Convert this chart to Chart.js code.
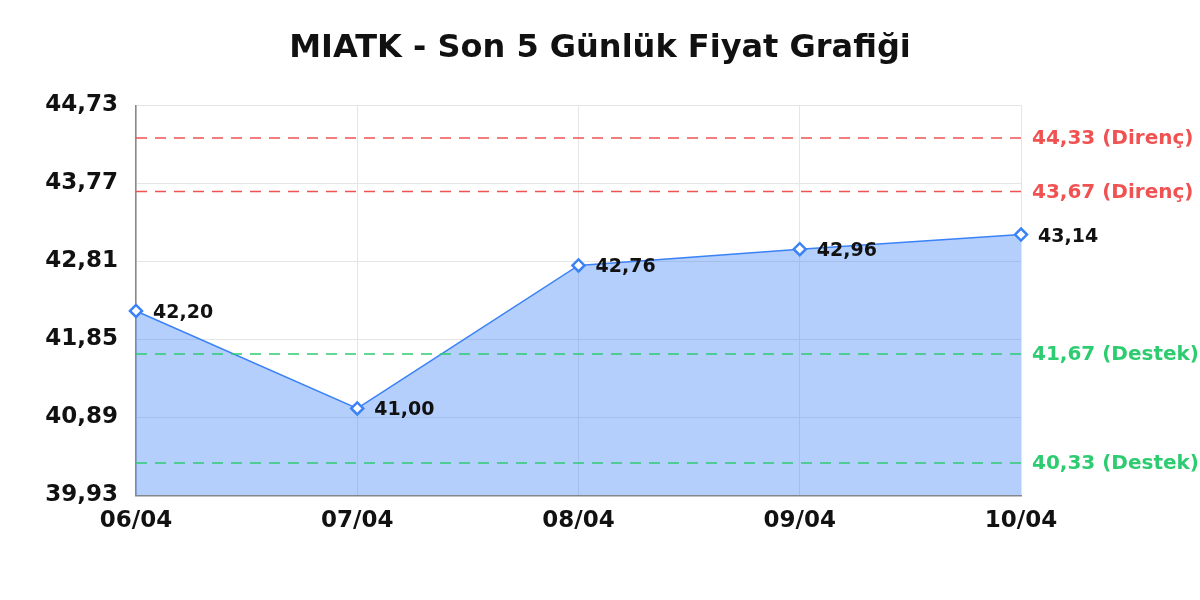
<!DOCTYPE html>
<html lang="tr">
<head>
    <meta charset="UTF-8">
    <title>MIATK - Son 5 Günlük Fiyat Grafiği</title>
    <style>
        body {
            margin: 0;
            padding: 0;
            background-color: #fff;
        }

        .chart-box {
            width: 1200px;
            height: 600px;
        }
    </style>
</head>
<body>
    <div class="chart-box">
        <canvas id="priceChart" width="1200" height="600"></canvas>
    </div>

    <script src="https://cdn.jsdelivr.net/npm/chart.js"></script>
    <script>
        // Data
        const days = ['06/04', '07/04', '08/04', '09/04', '10/04'];
        const prices = [42.20, 41.00, 42.76, 42.96, 43.14];
        const yTicks = [39.93, 40.89, 41.85, 42.81, 43.77, 44.73];
        const resistance = [44.33, 43.67];
        const support = [41.67, 40.33];

        const fontFamily = '"DejaVu Sans", sans-serif';
        const red = '#f05252';
        const green = '#2ecc71';
        const blue = '#3b82f6';

        const fmt = v => v.toFixed(2).replace('.', ',');

        // Dashed support / resistance lines with labels on the right
        const levelLines = {
            id: 'levelLines',
            afterDatasetsDraw(chart) {
                const ctx = chart.ctx;
                const area = chart.chartArea;
                const y = chart.scales.y;
                const levels = resistance.map(v => ({ v: v, color: red, name: 'Direnç' }))
                    .concat(support.map(v => ({ v: v, color: green, name: 'Destek' })));

                ctx.save();
                levels.forEach(l => {
                    const py = y.getPixelForValue(l.v);
                    ctx.strokeStyle = l.color;
                    ctx.lineWidth = 1.5;
                    ctx.setLineDash([11, 8]);
                    ctx.beginPath();
                    ctx.moveTo(area.left, py);
                    ctx.lineTo(area.right, py);
                    ctx.stroke();

                    ctx.setLineDash([]);
                    ctx.fillStyle = l.color;
                    ctx.font = 'bold 20px ' + fontFamily;
                    ctx.textAlign = 'left';
                    ctx.textBaseline = 'middle';
                    ctx.fillText(fmt(l.v) + ' (' + l.name + ')', area.right + 11, py + 1);
                });
                ctx.restore();
            }
        };

        // Value labels next to each point
        const pointLabels = {
            id: 'pointLabels',
            afterDatasetsDraw(chart) {
                const ctx = chart.ctx;
                const meta = chart.getDatasetMeta(0);
                ctx.save();
                ctx.fillStyle = '#111';
                ctx.font = 'bold 19px ' + fontFamily;
                ctx.textAlign = 'left';
                ctx.textBaseline = 'middle';
                meta.data.forEach((pt, i) => {
                    ctx.fillText(fmt(prices[i]), pt.x + 17, pt.y + 2);
                });
                ctx.restore();
            }
        };

        const ctx = document.getElementById('priceChart').getContext('2d');
        const priceChart = new Chart(ctx, {
            type: 'line',
            data: {
                labels: days,
                datasets: [{
                    data: prices,
                    borderColor: blue,
                    borderWidth: 1.5,
                    backgroundColor: 'rgba(59, 130, 246, 0.38)',
                    fill: 'start',
                    tension: 0,
                    pointStyle: 'rectRot',
                    pointRadius: 6,
                    pointBorderWidth: 2.5,
                    pointBorderColor: blue,
                    pointBackgroundColor: '#fff'
                }]
            },
            options: {
                responsive: false,
                animation: false,
                layout: {
                    padding: { left: 0, right: 0, top: 0, bottom: 53 }
                },
                plugins: {
                    legend: { display: false },
                    tooltip: { enabled: false },
                    title: {
                        display: true,
                        text: 'MIATK - Son 5 Günlük Fiyat Grafiği',
                        color: '#111',
                        font: { family: fontFamily, size: 32, weight: 'bold' },
                        padding: { top: 29, bottom: 38 }
                    }
                },
                scales: {
                    x: {
                        offset: false,
                        grid: { color: '#e5e5e5', drawTicks: false },
                        border: { color: '#888', width: 1.5 },
                        ticks: {
                            color: '#111',
                            padding: 12,
                            maxRotation: 0,
                            font: { family: fontFamily, size: 23, weight: 'bold' }
                        }
                    },
                    y: {
                        min: yTicks[0],
                        max: yTicks[yTicks.length - 1],
                        afterBuildTicks(scale) {
                            scale.ticks = yTicks.map(v => ({ value: v }));
                        },
                        afterFit(scale) {
                            scale.width = 136;
                        },
                        grid: { color: '#e5e5e5', drawTicks: false },
                        border: { color: '#888', width: 1.5 },
                        ticks: {
                            color: '#111',
                            padding: 18,
                            font: { family: fontFamily, size: 23, weight: 'bold' },
                            callback: v => fmt(v)
                        }
                    },
                    // empty right-hand axis that keeps room for the level labels
                    yRight: {
                        position: 'right',
                        grid: { display: false, drawOnChartArea: false },
                        border: { display: false },
                        ticks: { display: false },
                        afterFit(scale) {
                            scale.width = 179;
                        }
                    }
                }
            },
            plugins: [levelLines, pointLabels]
        });
    </script>
</body>
</html>
